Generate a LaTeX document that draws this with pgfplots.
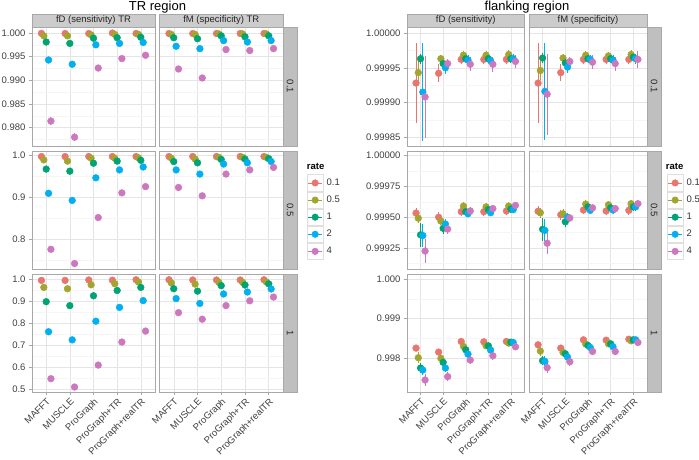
\documentclass[border=0pt]{standalone}
\usepackage{pgfplots}
\pgfplotsset{compat=1.18}
\usepackage{pgfplotstable}
\usepackage{fontspec}
\setmainfont{Liberation Sans}

\definecolor{c01}{RGB}{232,118,110}
\definecolor{c05}{RGB}{163,165,45}
\definecolor{c1}{RGB}{0,163,115}
\definecolor{c2}{RGB}{0,176,240}
\definecolor{c4}{RGB}{205,120,190}
\definecolor{border}{RGB}{168,168,168}

% ---- TR region (fD / fM, rate facets 0.1, 0.5, 1)
\pgfplotstableread{
cat r01 e01 r05 e05 r1 e1 r2 e2 r4 e4
1 0.99993 0 0.9994 0 0.9981 0 0.9943 0 0.9814 0.0009
2 0.9999 0 0.9994 0 0.9978 0 0.9934 0 0.9780 0.0009
3 0.9999 0 0.9996 0 0.9989 0 0.9975 0 0.9926 0.0003
4 1.0000 0 0.9997 0 0.9990 0 0.9978 0 0.9946 0.0003
5 0.9999 0 0.9997 0 0.9991 0 0.9980 0 0.9953 0.0003
}\LDa
\pgfplotstableread{
cat r01 e01 r05 e05 r1 e1 r2 e2 r4 e4
1 0.9999 0 0.9997 0 0.9990 0 0.9972 0 0.9924 0.0003
2 0.9999 0 0.9997 0 0.9988 0 0.9967 0 0.9905 0.0003
3 0.9999 0 0.9998 0 0.9994 0 0.9984 0 0.9965 0
4 0.9999 0 0.9998 0 0.9992 0 0.9981 0 0.9963 0
5 0.9999 0 0.9998 0 0.9994 0 0.9984 0 0.9967 0
}\LMa
\pgfplotstableread{
cat r01 r05 r1 r2 r4
1 0.998 0.990 0.968 0.910 0.776
2 0.998 0.987 0.963 0.893 0.742
3 0.998 0.994 0.982 0.947 0.852
4 0.998 0.994 0.987 0.966 0.911
5 0.998 0.995 0.989 0.973 0.926
}\LDb
\pgfplotstableread{
cat r01 r05 r1 r2 r4
1 0.998 0.994 0.986 0.966 0.924
2 0.998 0.992 0.983 0.956 0.904
3 0.998 0.996 0.991 0.980 0.956
4 0.998 0.996 0.992 0.983 0.966
5 0.998 0.996 0.993 0.986 0.972
}\LMb
\pgfplotstableread{
cat r01 r05 r1 r2 r4
1 0.995 0.963 0.898 0.761 0.547
2 0.995 0.957 0.880 0.724 0.509
3 0.997 0.975 0.925 0.809 0.609
4 0.996 0.980 0.949 0.872 0.714
5 0.998 0.988 0.963 0.903 0.764
}\LDc
\pgfplotstableread{
cat r01 r05 r1 r2 r4
1 0.998 0.983 0.957 0.912 0.848
2 0.997 0.978 0.946 0.890 0.818
3 0.997 0.986 0.971 0.933 0.880
4 0.997 0.986 0.974 0.942 0.902
5 0.998 0.988 0.979 0.956 0.919
}\LMc

% ---- flanking region
\pgfplotstableread{
cat r01 e01 r05 e05 r1 e1 r2 e2 r4 e4
1 0.999928 0.000058 0.999943 0.000018 0.999963 0.000007 0.999915 0.000071 0.999908 0.000059
2 0.999942 0.000013 0.999963 0.000006 0.999956 0.000006 0.999950 0.000009 0.999956 0.000006
3 0.999962 0.000007 0.999968 0.000006 0.999963 0.000006 0.999961 0.000007 0.999955 0.000010
4 0.999962 0.000007 0.999968 0.000006 0.999963 0.000006 0.999960 0.000007 0.999955 0.000011
5 0.999962 0.000007 0.999969 0.000006 0.999963 0.000006 0.999963 0.000007 0.999959 0.000010
}\RDa
\pgfplotstableread{
cat r01 e01 r05 e05 r1 e1 r2 e2 r4 e4
1 0.999928 0.000058 0.999946 0.000014 0.999964 0.000007 0.999916 0.000070 0.999912 0.000058
2 0.999943 0.000012 0.999964 0.000006 0.999957 0.000006 0.999951 0.000009 0.999959 0.000006
3 0.999962 0.000007 0.999968 0.000006 0.999963 0.000006 0.999962 0.000007 0.999958 0.000010
4 0.999962 0.000007 0.999967 0.000006 0.999963 0.000006 0.999961 0.000007 0.999956 0.000010
5 0.999962 0.000007 0.999969 0.000006 0.999965 0.000006 0.999963 0.000007 0.999962 0.000012
}\RMa
\pgfplotstableread{
cat r01 e01 r05 e05 r1 e1 r2 e2 r4 e4
1 0.999534 0.000040 0.999492 0.000040 0.999357 0.000095 0.999351 0.000090 0.999225 0.000100
2 0.999500 0.000040 0.999469 0.000032 0.999410 0.000050 0.999444 0.000040 0.999404 0.000040
3 0.999545 0.000035 0.999590 0.000030 0.999545 0.000030 0.999528 0.000030 0.999551 0.000030
4 0.999545 0.000035 0.999584 0.000030 0.999562 0.000030 0.999537 0.000030 0.999570 0.000030
5 0.999551 0.000035 0.999590 0.000030 0.999567 0.000030 0.999562 0.000030 0.999596 0.000030
}\RDb
\pgfplotstableread{
cat r01 e01 r05 e05 r1 e1 r2 e2 r4 e4
1 0.999548 0.000040 0.999537 0.000040 0.999402 0.000095 0.999393 0.000090 0.999289 0.000085
2 0.999520 0.000040 0.999528 0.000035 0.999463 0.000045 0.999500 0.000035 0.999494 0.000035
3 0.999559 0.000035 0.999607 0.000030 0.999584 0.000030 0.999556 0.000030 0.999576 0.000030
4 0.999551 0.000035 0.999601 0.000030 0.999576 0.000030 0.999559 0.000030 0.999570 0.000030
5 0.999556 0.000035 0.999610 0.000030 0.999584 0.000030 0.999584 0.000030 0.999610 0.000030
}\RMb
\pgfplotstableread{
cat r01 e01 r05 e05 r1 e1 r2 e2 r4 e4
1 0.998253 0.00008 0.998008 0.00014 0.997747 0.00012 0.997697 0.00013 0.997444 0.00014
2 0.998152 0.00008 0.997992 0.00010 0.997891 0.00010 0.997747 0.00010 0.997529 0.00012
3 0.998421 0.00006 0.998295 0.00007 0.998210 0.00007 0.998101 0.00008 0.997949 0.00010
4 0.998412 0.00006 0.998311 0.00007 0.998311 0.00007 0.998202 0.00008 0.998059 0.00010
5 0.998421 0.00006 0.998379 0.00007 0.998404 0.00007 0.998396 0.00008 0.998286 0.00008
}\RDc
\pgfplotstableread{
cat r01 e01 r05 e05 r1 e1 r2 e2 r4 e4
1 0.998337 0.00008 0.998177 0.00012 0.997933 0.00012 0.997916 0.00013 0.997756 0.00013
2 0.998253 0.00007 0.998143 0.00008 0.998109 0.00008 0.998025 0.00009 0.997907 0.00010
3 0.998463 0.00006 0.998354 0.00007 0.998320 0.00007 0.998269 0.00008 0.998168 0.00009
4 0.998455 0.00006 0.998362 0.00007 0.998362 0.00007 0.998286 0.00008 0.998168 0.00010
5 0.998480 0.00006 0.998438 0.00007 0.998463 0.00007 0.998463 0.00008 0.998396 0.00008
}\RMc

\newcommand{\rates}[1]{%
  \addplot[c01] table[x expr=\thisrow{cat}-0.2, y=r01] {#1};
  \addplot[c05] table[x expr=\thisrow{cat}-0.1, y=r05] {#1};
  \addplot[c1]  table[x expr=\thisrow{cat},     y=r1]  {#1};
  \addplot[c2]  table[x expr=\thisrow{cat}+0.1, y=r2]  {#1};
  \addplot[c4]  table[x expr=\thisrow{cat}+0.2, y=r4]  {#1};
}
\newcommand{\ratesci}[1]{%
  \addplot[c01, ebar] table[x expr=\thisrow{cat}-0.2, y=r01, y error=e01] {#1};
  \addplot[c05, ebar] table[x expr=\thisrow{cat}-0.1, y=r05, y error=e05] {#1};
  \addplot[c1,  ebar] table[x expr=\thisrow{cat},     y=r1,  y error=e1]  {#1};
  \addplot[c2,  ebar] table[x expr=\thisrow{cat}+0.1, y=r2,  y error=e2]  {#1};
  \addplot[c4,  ebar] table[x expr=\thisrow{cat}+0.2, y=r4,  y error=e4]  {#1};
}

\pgfplotsset{
  panel/.style={
    scale only axis, anchor=south west, clip=false,
    xmin=0.4, xmax=5.6, xtick={1,2,3,4,5},
    xticklabels={MAFFT,MUSCLE,ProGraph,ProGraph+TR,ProGraph+realTR},
    axis line style={border, line width=0.5pt},
    grid=both,
    major grid style={gray!20, line width=0.5pt},
    minor grid style={gray!8, line width=0.4pt},
    tick align=outside, xtick pos=bottom, ytick pos=left,
    major tick length=3pt, minor tick length=0pt,
    tick style={gray!70, line width=0.5pt},
    tick label style={font=\fontsize{9.5}{11}\selectfont, text=black!75},
    xticklabel style={rotate=45, anchor=north east, inner sep=1.5pt},
    every axis plot/.append style={only marks, mark=*, mark size=3.4pt},
  },
  ebar/.style={error bars/y dir=both, error bars/y explicit,
    error bars/error mark=none, error bars/error bar style={line width=0.9pt}},
  noxlab/.style={xticklabels={}, xtick style={draw=none}},
  noylab/.style={yticklabels={}, ytick style={draw=none}},
  wL1/.style={width=123pt}, wL2/.style={width=123.5pt},
  wR1/.style={width=117.5pt}, wR2/.style={width=118pt},
  rowA/.style={height=119pt}, rowB/.style={height=117.5pt}, rowC/.style={height=118pt},
  yL1/.style={ymin=0.976135, ymax=1.001267, ytick={0.98,0.985,0.99,0.995,1},
    yticklabels={0.980,0.985,0.990,0.995,1.000}, minor ytick={0.9775,0.9825,0.9875,0.9925,0.9975}},
  yL2/.style={ymin=0.7289, ymax=1.01005, ytick={0.8,0.9,1},
    yticklabels={0.8,0.9,1.0}, minor ytick={0.75,0.85,0.95}},
  yL3/.style={ymin=0.48633, ymax=1.02416, ytick={0.5,0.6,0.7,0.8,0.9,1},
    yticklabels={0.5,0.6,0.7,0.8,0.9,1.0}, minor ytick={0.55,0.65,0.75,0.85,0.95}},
  yR1/.style={ymin=0.9998375, ymax=1.0000086, ytick={0.99985,0.9999,0.99995,1},
    yticklabels={0.99985,0.99990,0.99995,1.00000}, minor ytick={0.999875,0.999925,0.999975}},
  yR2/.style={ymin=0.9990794, ymax=1.0000341, ytick={0.99925,0.9995,0.99975,1},
    yticklabels={0.99925,0.99950,0.99975,1.00000}, minor ytick={0.999125,0.999375,0.999625,0.999875}},
  yR3/.style={ymin=0.997139, ymax=1.000134, ytick={0.998,0.999,1},
    yticklabels={0.998,0.999,1.000}, minor ytick={0.9975,0.9985,0.9995}},
  ratelegend/.style={
    legend entries={0.1,0.5,1,2,4},
    legend cell align=left,
    legend style={at={(#1,0.805)}, anchor=north west, draw=none, fill=none,
      inner sep=0pt, outer sep=0pt, row sep=0pt,
      font=\fontsize{9.5}{11}\selectfont, text=black!80,
      nodes={inner sep=0pt, outer sep=0pt},
      /tikz/every odd column/.append style={column sep=3pt}},
    legend image code/.code={
      \draw[gray!25, fill=white, line width=0.5pt] (0pt,-8.3pt) rectangle (16.4pt,8.3pt);
      \draw[##1, line width=0.9pt] (1pt,0pt) -- (15.4pt,0pt);
      \fill[##1] (8.2pt,0pt) circle (3.3pt);
    },
  },
}

\tikzset{
  strip/.style={draw=border, fill=gray!40, line width=0.5pt},
  striptext/.style={font=\fontsize{9.5}{11}\selectfont, text=black!85},
}

\begin{document}
\begin{tikzpicture}
\useasboundingbox (0pt,0pt) rectangle (699pt,459pt);

% ================= TR region =================
\begin{axis}[panel, at={(32pt,313pt)}, wL1, rowA, yL1, noxlab]
\ratesci{\LDa}
\end{axis}
\begin{axis}[panel, at={(159.5pt,313pt)}, wL2, rowA, yL1, noxlab, noylab]
\ratesci{\LMa}
\end{axis}
\begin{axis}[panel, at={(32pt,190pt)}, wL1, rowB, yL2, noxlab]
\rates{\LDb}
\end{axis}
\begin{axis}[panel, at={(159.5pt,190pt)}, wL2, rowB, yL2, noxlab, noylab, ratelegend=1.192]
\addlegendimage{c01}
\addlegendimage{c05}
\addlegendimage{c1}
\addlegendimage{c2}
\addlegendimage{c4}
\rates{\LMb}
\end{axis}
\begin{axis}[panel, at={(32pt,67pt)}, wL1, rowC, yL3]
\rates{\LDc}
\end{axis}
\begin{axis}[panel, at={(159.5pt,67pt)}, wL2, rowC, yL3, noylab]
\rates{\LMc}
\end{axis}

\filldraw[strip] (32pt,432pt) rectangle (155pt,445pt);
\filldraw[strip] (159.5pt,432pt) rectangle (283pt,445pt);
\node[striptext] at (93.5pt,438.5pt) {fD (sensitivity) TR};
\node[striptext] at (221.25pt,438.5pt) {fM (specificity) TR};
\filldraw[strip, fill=gray!50] (283pt,313pt) rectangle (297.5pt,432pt);
\filldraw[strip, fill=gray!50] (283pt,190pt) rectangle (297.5pt,307.5pt);
\filldraw[strip, fill=gray!50] (283pt,67pt) rectangle (297.5pt,185pt);
\node[striptext, rotate=-90] at (290.25pt,372.5pt) {0.1};
\node[striptext, rotate=-90] at (290.25pt,248.75pt) {0.5};
\node[striptext, rotate=-90] at (290.25pt,126pt) {1};
\node[anchor=base, font=\fontsize{13}{15}\selectfont] at (157.5pt,448pt) {TR region};
\node[anchor=west, font=\bfseries\fontsize{9.5}{11}\selectfont, inner sep=0pt] at (306.7pt,293pt) {rate};

% ================= flanking region =================
\begin{axis}[panel, at={(407pt,313pt)}, wR1, rowA, yR1, noxlab]
\ratesci{\RDa}
\end{axis}
\begin{axis}[panel, at={(529pt,313pt)}, wR2, rowA, yR1, noxlab, noylab]
\ratesci{\RMa}
\end{axis}
\begin{axis}[panel, at={(407pt,190pt)}, wR1, rowB, yR2, noxlab]
\ratesci{\RDb}
\end{axis}
\begin{axis}[panel, at={(529pt,190pt)}, wR2, rowB, yR2, noxlab, noylab, ratelegend=1.167]
\addlegendimage{c01}
\addlegendimage{c05}
\addlegendimage{c1}
\addlegendimage{c2}
\addlegendimage{c4}
\ratesci{\RMb}
\end{axis}
\begin{axis}[panel, at={(407pt,67pt)}, wR1, rowC, yR3]
\ratesci{\RDc}
\end{axis}
\begin{axis}[panel, at={(529pt,67pt)}, wR2, rowC, yR3, noylab]
\ratesci{\RMc}
\end{axis}

\filldraw[strip] (407pt,432pt) rectangle (524.5pt,445pt);
\filldraw[strip] (529pt,432pt) rectangle (647pt,445pt);
\node[striptext] at (465.75pt,438.5pt) {fD (sensitivity)};
\node[striptext] at (588pt,438.5pt) {fM (specificity)};
\filldraw[strip, fill=gray!50] (647pt,313pt) rectangle (661.5pt,432pt);
\filldraw[strip, fill=gray!50] (647pt,190pt) rectangle (661.5pt,307.5pt);
\filldraw[strip, fill=gray!50] (647pt,67pt) rectangle (661.5pt,185pt);
\node[striptext, rotate=-90] at (654.25pt,372.5pt) {0.1};
\node[striptext, rotate=-90] at (654.25pt,248.75pt) {0.5};
\node[striptext, rotate=-90] at (654.25pt,126pt) {1};
\node[anchor=base, font=\fontsize{13}{15}\selectfont] at (527pt,448pt) {flanking region};
\node[anchor=west, font=\bfseries\fontsize{9.5}{11}\selectfont, inner sep=0pt] at (665.7pt,293pt) {rate};
\end{tikzpicture}
\end{document}
